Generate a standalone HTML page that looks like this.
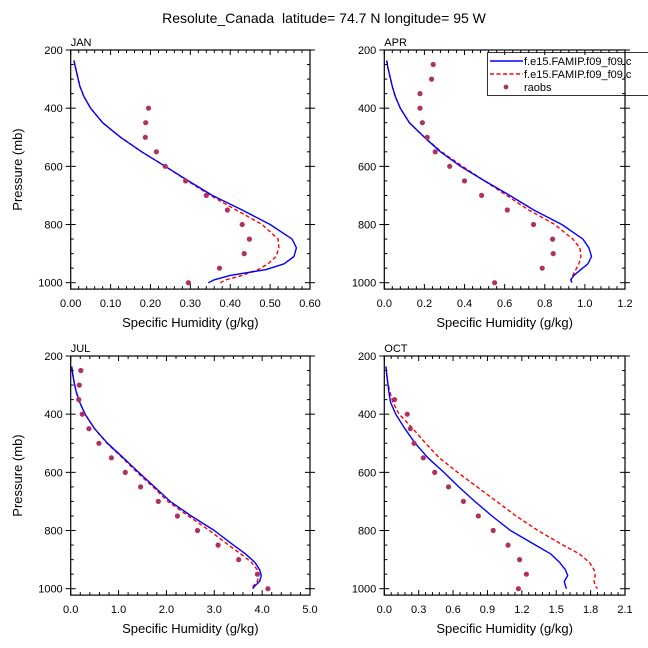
<!DOCTYPE html>
<html><head><meta charset="utf-8"><style>
html,body{margin:0;padding:0;background:#fff;}
svg{display:block;font-family:"Liberation Sans",Arial,sans-serif;}
</style></head><body>
<svg id="chart" width="648" height="648" viewBox="0 0 648 648">
<text x="324" y="23" text-anchor="middle" font-size="14" style="white-space:pre">Resolute_Canada  latitude= 74.7 N longitude= 95 W</text>
</svg>
<script>
const levM=[236,260,290,325,360,400,450,500,550,600,650,700,750,800,850,880,910,935,955,975,990,1000];
const levObs=[250,300,350,400,450,500,550,600,650,700,750,800,850,900,950,1000];
const janBlue=[0.008,0.012,0.017,0.023,0.033,0.05,0.08,0.125,0.178,0.237,0.295,0.355,0.43,0.5,0.555,0.566,0.56,0.535,0.49,0.40,0.36,0.345];
const janRed=[0.008,0.012,0.017,0.023,0.033,0.05,0.08,0.125,0.178,0.237,0.293,0.35,0.415,0.48,0.52,0.522,0.515,0.495,0.47,0.43,0.39,0.375];
const janObs=[null,null,null,0.195,0.188,0.187,0.215,0.237,0.288,0.34,0.393,0.43,0.448,0.435,0.373,0.295];
const aprBlue=[0.012,0.018,0.028,0.04,0.055,0.08,0.125,0.2,0.28,0.38,0.5,0.625,0.745,0.885,0.99,1.02,1.033,1.015,0.98,0.945,0.93,0.935];
const aprRed=[0.012,0.018,0.028,0.04,0.055,0.08,0.125,0.2,0.285,0.39,0.5,0.61,0.72,0.85,0.94,0.975,0.98,0.97,0.955,0.94,0.93,0.935];
const aprObs=[0.244,0.236,0.178,0.178,0.19,0.214,0.254,0.326,0.40,0.485,0.613,0.744,0.839,0.842,0.787,0.55];
const julBlue=[0.02,0.04,0.07,0.12,0.19,0.3,0.5,0.77,1.1,1.42,1.75,2.08,2.52,3.0,3.4,3.65,3.85,3.95,3.98,3.95,3.85,3.8];
const julRed=[0.02,0.04,0.07,0.12,0.19,0.3,0.5,0.76,1.08,1.39,1.72,2.03,2.46,2.9,3.3,3.55,3.78,3.9,3.93,3.9,3.82,3.8];
const julObs=[0.21,0.18,0.17,0.24,0.38,0.59,0.85,1.14,1.46,1.83,2.23,2.65,3.08,3.51,3.9,4.12];
const octBlue=[0.015,0.02,0.03,0.04,0.055,0.1,0.18,0.27,0.38,0.52,0.65,0.79,0.94,1.1,1.32,1.45,1.53,1.58,1.60,1.57,1.58,1.59];
const octRed=[0.015,0.02,0.03,0.05,0.075,0.13,0.25,0.36,0.48,0.64,0.81,0.98,1.15,1.34,1.56,1.70,1.79,1.83,1.84,1.83,1.84,1.86];
const octObs=[null,null,0.09,0.2,0.227,0.26,0.34,0.44,0.56,0.69,0.82,0.95,1.08,1.18,1.24,1.17];
const janTicks=["0.00","0.10","0.20","0.30","0.40","0.50","0.60"];
const aprTicks=["0.0","0.2","0.4","0.6","0.8","1.0","1.2"];
const julTicks=["0.0","1.0","2.0","3.0","4.0","5.0"];
const octTicks=["0.0","0.3","0.6","0.9","1.2","1.5","1.8","2.1"];
const pTicks=[200,400,600,800,1000];

const NS="http://www.w3.org/2000/svg";
const svg=document.getElementById('chart');
function mk(t,a,p){const e=document.createElementNS(NS,t);for(const k in a)e.setAttribute(k,a[k]);(p||svg).appendChild(e);return e;}

function panel(name,x0,x1,y0,ticks,blue,red,obs,showYTitle){
  const g=mk('g',{});
  
  
  const pmin=200,pmax=1022;
  const y200=y0, ppm=(232.7)/800;
  const yb=y200+(pmax-pmin)*ppm;
  const xmax=parseFloat(ticks[ticks.length-1]);
  const sx=v=>x0+v/xmax*(x1-x0);
  const sy=p=>y200+(p-pmin)*ppm;
  const mkPath=(vals,col,dash,nm)=>{
    let d='';vals.forEach((v,i)=>{d+=(i?'L':'M')+sx(v).toFixed(1)+','+sy(levM[i]).toFixed(1);});
    const p=mk('path',{d:d,fill:'none',stroke:col,'stroke-width':1.4,'stroke-linejoin':'round'},g);
    if(dash)p.setAttribute('stroke-dasharray',dash);
    
    
  };
  mkPath(red,'#ff0000','4,2.5',name+'-red-line');
  mkPath(blue,'#0000ff',null,name+'-blue-line');
  obs.forEach((v,i)=>{if(v==null)return;
    const c=mk('circle',{cx:sx(v).toFixed(1),cy:sy(levObs[i]).toFixed(1),r:2.6,fill:'#b03060'},g);
    
    
  });
  const fr=mk('rect',{x:x0,y:y0,width:x1-x0,height:yb-y0,fill:'none',stroke:'#000','stroke-width':1.2},g);
  
  
  for(let p=200;p<=1000;p+=50){
    const maj=p%200===0,y=sy(p);
    if(maj){mk('line',{x1:x0-5,x2:x0+5,y1:y,y2:y,stroke:'#000','stroke-width':1},g);
      mk('line',{x1:x1-5,x2:x1+5,y1:y,y2:y,stroke:'#000','stroke-width':1},g);
      const t=mk('text',{x:x0-8,y:y+4,'text-anchor':'end','font-size':11},g);t.textContent=p;
      
      
    }else{mk('line',{x1:x0,x2:x0+3,y1:y,y2:y,stroke:'#000','stroke-width':1},g);
      mk('line',{x1:x1-3,x2:x1,y1:y,y2:y,stroke:'#000','stroke-width':1},g);}
  }
  const n=ticks.length-1;
  for(let i=0;i<=n*5;i++){
    const v=xmax*i/(n*5),x=sx(v);
    if(i%5===0){mk('line',{x1:x,x2:x,y1:yb-5,y2:yb,stroke:'#000','stroke-width':1},g);
      mk('line',{x1:x,x2:x,y1:y0,y2:y0+5,stroke:'#000','stroke-width':1},g);
      const t=mk('text',{x:x,y:yb+18,'text-anchor':'middle','font-size':11},g);t.textContent=ticks[i/5];
      
      
    }else{mk('line',{x1:x,x2:x,y1:yb-3,y2:yb,stroke:'#000','stroke-width':1},g);
      mk('line',{x1:x,x2:x,y1:y0,y2:y0+3,stroke:'#000','stroke-width':1},g);}
  }
  const xt=mk('text',{x:(x0+x1)/2,y:yb+38,'text-anchor':'middle','font-size':13},g);xt.textContent='Specific Humidity (g/kg)';
  
  
  const lt=mk('text',{x:x0,y:y0-4,'font-size':11},g);lt.textContent=name.toUpperCase();
  
  
  if(showYTitle){
    const yt=mk('text',{x:0,y:0,'text-anchor':'middle','font-size':13,transform:'translate(22,'+((y0+yb)/2)+') rotate(-90)'},g);
    yt.textContent='Pressure (mb)';
    
    
  }
}
panel('jan',70.7,310,50,janTicks,janBlue,janRed,janObs,true);
panel('apr',384.3,625,50,aprTicks,aprBlue,aprRed,aprObs,false);
panel('jul',70.7,310,356,julTicks,julBlue,julRed,julObs,true);
panel('oct',384.3,625,356,octTicks,octBlue,octRed,octObs,false);

const lg=mk('g',{});


mk('rect',{x:487.5,y:52.5,width:170,height:43,fill:'none',stroke:'#000','stroke-width':0.8},lg);
const items=[['#0000ff',null,'f.e15.FAMIP.f09_f09.c'],['#ff0000','4,2.5','f.e15.FAMIP.f09_f09.c'],['#b03060','dot','raobs']];
items.forEach((it,i)=>{
  const y=61+i*13;
  const e=mk('g',{},lg);
  
  
  if(it[1]==='dot'){mk('circle',{cx:506,cy:y,r:2.4,fill:it[0]},e);}
  else{const l=mk('line',{x1:490,x2:523,y1:y,y2:y,stroke:it[0],'stroke-width':1.4},e);if(it[1])l.setAttribute('stroke-dasharray',it[1]);}
  const t=mk('text',{x:524,y:y+4,'font-size':11},e);t.textContent=it[2];
});
</script>
</body></html>
